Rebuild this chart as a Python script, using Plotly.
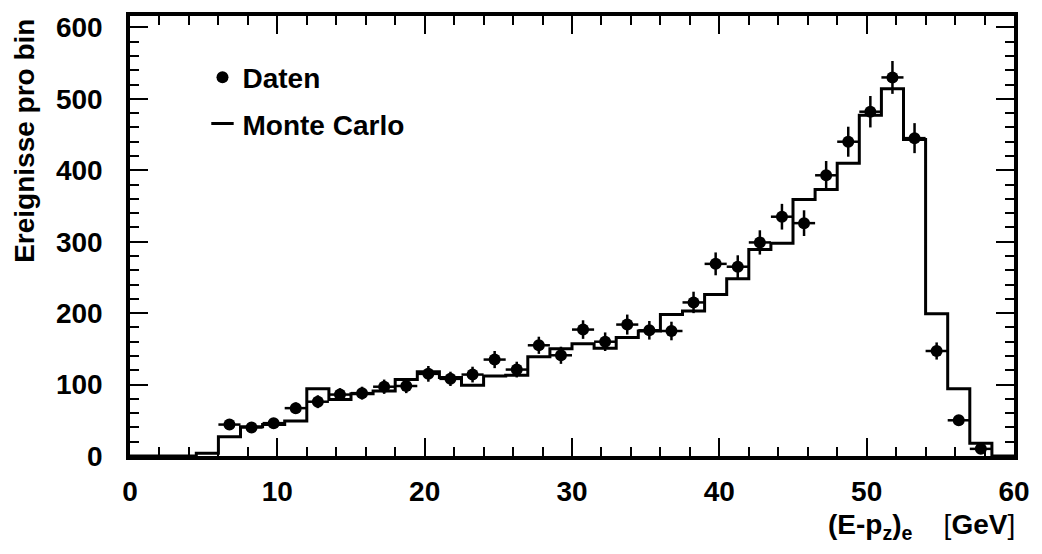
import plotly.graph_objects as go

# Data points (bin width 1.5 GeV)
data_x = [6.75, 8.25, 9.75, 11.25, 12.75, 14.25, 15.75, 17.25, 18.75, 20.25,
          21.75, 23.25, 24.75, 26.25, 27.75, 29.25, 30.75, 32.25, 33.75, 35.25,
          36.75, 38.25, 39.75, 41.25, 42.75, 44.25, 45.75, 47.25, 48.75, 50.25,
          51.75, 53.25, 54.75, 56.25, 57.75]
data_y = [44, 40, 46, 67, 76, 86, 88, 97, 98, 115,
          108, 114, 135, 121, 155, 141, 177, 160, 184, 176,
          175, 215, 269, 265, 299, 335, 326, 393, 440, 482,
          530, 445, 147, 50, 10]
data_err = [7, 6, 7, 8, 9, 9, 9, 10, 10, 11,
            10, 11, 12, 11, 12, 12, 13, 13, 14, 13,
            13, 15, 16, 16, 17, 18, 18, 20, 21, 22,
            23, 21, 12, 7, 3]
half_bin = 0.75

# Monte Carlo histogram (bin edges 0..60, width 1.5)
mc_edges = [i * 1.5 for i in range(41)]
mc_values = [0, 0, 0, 4, 27, 41, 44, 49, 94, 79,
             87, 91, 107, 118, 110, 99, 112, 113, 139, 150,
             157, 151, 166, 175, 198, 203, 226, 248, 289, 298,
             359, 373, 410, 477, 514, 443, 199, 94, 18, 0]

FONT = "Liberation Sans"

fig = go.Figure()

mc_x = mc_edges
mc_y = mc_values + [mc_values[-1]]
fig.add_trace(go.Scatter(
    x=mc_x, y=mc_y, mode="lines", line=dict(color="black", width=3, shape="hv"),
    showlegend=False, hoverinfo="skip"))

fig.add_trace(go.Scatter(
    x=data_x, y=data_y, mode="markers", name="Daten",
    marker=dict(color="black", size=12, symbol="circle"),
    error_y=dict(type="data", array=data_err, color="black", thickness=2.5, width=0),
    error_x=dict(type="constant", value=half_bin, color="black", thickness=2.5, width=0),
    legendgroup="a"))

fig.add_trace(go.Scatter(
    x=[None], y=[None], mode="markers", name="Monte Carlo",
    marker=dict(color="black", size=16, symbol="line-ew-open",
                line=dict(color="black", width=3)),
    legendgroup="b"))

axis_common = dict(
    showline=True, linecolor="black", linewidth=3.5, mirror="allticks",
    ticks="inside", ticklen=18, tickwidth=2, tickcolor="black",
    showgrid=False, zeroline=False,
    tickfont=dict(family=FONT, size=28, color="black", weight="bold"),
)

fig.update_xaxes(range=[0, 60], dtick=10, tick0=0, ticklabelstandoff=8,
                 minor=dict(ticks="inside", ticklen=9, dtick=2, tickwidth=2,
                            tickcolor="black", showgrid=False),
                 **axis_common)
fig.update_yaxes(range=[0, 616], dtick=100, tick0=0, ticklabelstandoff=18,
                 minor=dict(ticks="inside", ticklen=9, dtick=20, tickwidth=2,
                            tickcolor="black", showgrid=False),
                 **axis_common)

fig.add_annotation(
    text="Ereignisse pro bin", textangle=-90, xref="paper", yref="paper",
    x=-0.1202, y=0.7157, xanchor="center", yanchor="middle", showarrow=False,
    font=dict(family=FONT, size=28, color="black", weight="bold"))

fig.add_annotation(
    text="(E-p<sub>z</sub>)<sub>e</sub>    <span style=\"font-weight:normal\">[</span>GeV<span style=\"font-weight:normal\">]</span>",
    xref="paper", yref="paper", x=1.003, y=-0.115, xanchor="right", yanchor="top",
    showarrow=False,
    font=dict(family=FONT, size=28, color="black", weight="bold"))

fig.update_layout(
    width=1042, height=554,
    margin=dict(l=130, r=22, t=12, b=98),
    plot_bgcolor="white", paper_bgcolor="white",
    legend=dict(x=0.082, y=0.917, xanchor="left", yanchor="top",
                bgcolor="rgba(0,0,0,0)", traceorder="grouped", tracegroupgap=7,
                font=dict(family=FONT, size=28, color="black", weight="bold")),
)

fig.write_html("out.html")
